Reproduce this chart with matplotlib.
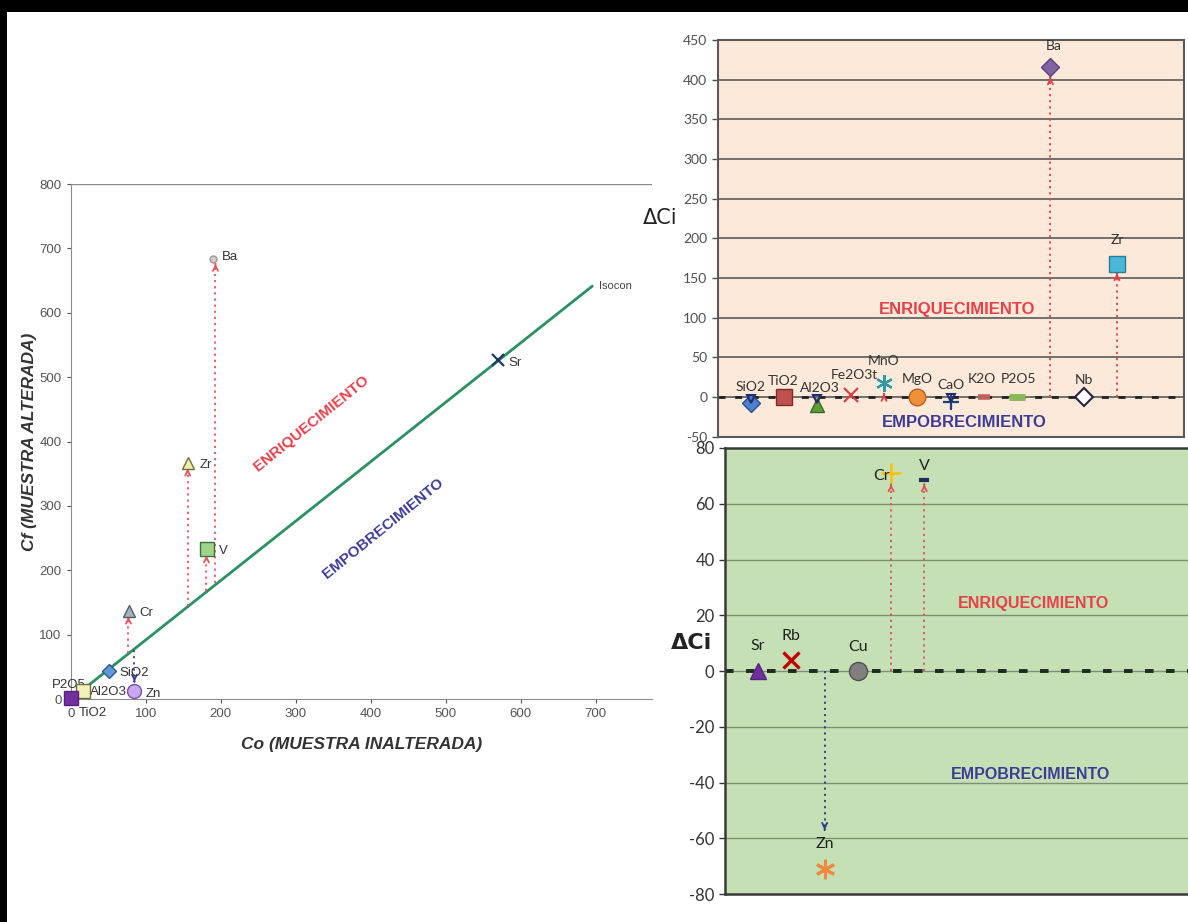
import matplotlib
matplotlib.use('Agg')
import matplotlib.pyplot as plt
from matplotlib import patches
import numpy as np

plt.rcParams['axes.unicode_minus'] = False

# ---- left chart: isocon diagram ----
iso_names = ['Ba', 'Zr', 'V', 'Cr', 'SiO2', 'Zn', 'Sr', 'Al2O3', 'TiO2']
iso_co = [190, 157, 182, 78, 51, 84, 570, 16, 0]
iso_cf = [684, 367, 233, 137, 44, 13, 527, 12, 1]
isocon_co = [18, 695]
isocon_cf = [16, 641]
# arrows: (Co, Cf start, Cf end)
iso_up = [(193, 180, 676), (156, 145, 358), (181, 168, 223), (77, 72, 128)]
iso_down = [(85, 76, 27), (16, 17, 9)]

# ---- top right: major elements + Ba, Nb, Zr ----
maj_names = ['SiO2', 'TiO2', 'Al2O3', 'Fe2O3t', 'MnO', 'MgO', 'CaO',
             'K2O', 'P2O5', 'Ba', 'Nb', 'Zr']
maj_dci = [-7, 0, -10, 2.5, 18, 0, -6, 0, 0, 416, 0, 168]
maj_up = [('Ba', 403), ('Zr', 156), ('MnO', 4)]
maj_down = [('SiO2', -2), ('Al2O3', -2), ('CaO', -1)]

# ---- bottom right: trace elements ----
tr_names = ['Sr', 'Rb', 'Zn', 'Cu', 'Cr', 'V']
tr_dci = [0, 4, -71, 0, 71, 68.5]
tr_up = [('Cr', 67), ('V', 67)]
tr_down = [('Zn', -57)]

RED = '#E8404A'
NAVY = '#3C3C96'
ASTER = (6, 2, 0)

fig = plt.figure(figsize=(11.88, 9.22), dpi=100)

# black frame (top and left)
fig.patches.append(patches.Rectangle((0, 1 - 12 / 922), 1, 12 / 922, transform=fig.transFigure,
                                     facecolor='black', edgecolor='none', zorder=10))
fig.patches.append(patches.Rectangle((0, 0), 7 / 1188, 1, transform=fig.transFigure,
                                     facecolor='black', edgecolor='none', zorder=10))


def dotted_arrow(ax, x, y0, y1, color, lw=1.3):
    ax.plot([x, x], [y0, y1], ls=(0, (1.2, 2.2)), color=color, lw=lw, zorder=2)
    d = (y1 - y0)
    ax.annotate('', xy=(x, y1), xytext=(x, y1 - 0.02 * d / abs(d) if d != 0 else y1),
                arrowprops=dict(arrowstyle='->', color=color, lw=lw,
                                shrinkA=0, shrinkB=0, mutation_scale=9), zorder=3)


# ===================== left chart =====================
ax1 = fig.add_axes([70.7 / 1188, 1 - 699 / 922, (652 - 70.7) / 1188, (699 - 184) / 922])
ax1.set_xlim(0, 775)
ax1.set_ylim(0, 800)
for s in ['top', 'right']:
    ax1.spines[s].set_visible(False)
for s in ['left', 'bottom']:
    ax1.spines[s].set_color('#8C8C8C')
ax1.axhline(800, color='#8C8C8C', lw=1)
ax1.set_xticks(np.arange(0, 701, 100))
ax1.set_yticks(np.arange(0, 801, 100))
ax1.tick_params(labelsize=9.5, colors='#555555', length=3, width=0.8, direction='out')
lfont = 'Liberation Sans'
for lab in ax1.get_xticklabels() + ax1.get_yticklabels():
    lab.set_family(lfont)

ax1.plot(isocon_co, isocon_cf, color='#2A9163', lw=2, zorder=2)
ax1.text(isocon_co[1] + 10, isocon_cf[1], 'Isocon', fontsize=8, color='#444444',
         family=lfont, va='center')

for x, y0, y1 in iso_up:
    dotted_arrow(ax1, x, y0, y1, '#F0505A')
for x, y0, y1 in iso_down:
    dotted_arrow(ax1, x, y0, y1, '#3A3A90')

iso_style = {
    'Ba': dict(marker='o', ms=5, mfc='#D8C8CC', mec='#999999'),
    'Zr': dict(marker='^', ms=9, mfc='#EEF0A8', mec='#6E6E40'),
    'V': dict(marker='s', ms=10, mfc='#9FD48C', mec='#3E6E3E'),
    'Cr': dict(marker='^', ms=9, mfc='#A4B4BC', mec='#4E5E66'),
    'SiO2': dict(marker='D', ms=7, mfc='#5C9BD5', mec='#2C5B8A'),
    'Zn': dict(marker='o', ms=10, mfc='#C8A8EE', mec='#7A50B0'),
    'Sr': dict(marker='x', ms=9, mec='#1F3864', mew=1.6),
    'Al2O3': dict(marker='s', ms=10, mfc='#F2F2B8', mec='#6E6E40'),
    'TiO2': dict(marker='s', ms=10, mfc='#7030A0', mec='#5A2080'),
}
for n, x, y in zip(iso_names, iso_co, iso_cf):
    ax1.plot([x], [y], ls='none', zorder=4, clip_on=False, **iso_style[n])

lbl_pos = {'Ba': (202, 686, 'left'), 'Zr': (172, 364, 'left'), 'V': (198, 230, 'left'),
           'Cr': (92, 134, 'left'), 'SiO2': (65, 40, 'left'), 'Zn': (100, 8, 'left'),
           'Sr': (583, 522, 'left'), 'Al2O3': (26, 11, 'left'), 'TiO2': (30, -22, 'center')}
for n, (x, y, ha) in lbl_pos.items():
    ax1.text(x, y, n, fontsize=9.5, color='#333333', family=lfont, ha=ha, va='center',
             clip_on=False)
ax1.text(-2, 22, 'P2O5', fontsize=9.5, color='#333333', family=lfont, ha='center',
         va='center', clip_on=False)

ax1.text(321, 428, 'ENRIQUECIMIENTO', color=RED, fontsize=11, fontweight='bold',
         family=lfont, rotation=39, ha='center', va='center', rotation_mode='anchor')
ax1.text(417, 265, 'EMPOBRECIMIENTO', color=NAVY, fontsize=11, fontweight='bold',
         family=lfont, rotation=39, ha='center', va='center', rotation_mode='anchor')
ax1.set_xlabel('Co (MUESTRA INALTERADA)', fontsize=12.5, fontweight='bold',
               fontstyle='italic', family=lfont, color='#333333', labelpad=12)
ax1.set_ylabel('Cf (MUESTRA ALTERADA)', fontsize=12.5, fontweight='bold',
               fontstyle='italic', family=lfont, color='#333333', labelpad=2)

# ===================== top right chart =====================
rfont = 'Lato'
ax2 = fig.add_axes([717.6 / 1188, 1 - 436.7 / 922, (1183.5 - 717.6) / 1188, (436.7 - 40) / 922])
ax2.set_facecolor('#FDE9D9')
ax2.set_xlim(0, 14)
ax2.set_ylim(-50, 450)
ax2.set_yticks(np.arange(-50, 451, 50))
ax2.set_xticks([])
ax2.grid(axis='y', color='#595959', lw=1.2)
ax2.set_axisbelow(True)
for s in ax2.spines.values():
    s.set_color('#595959')
    s.set_linewidth(1.5)
ax2.tick_params(axis='y', labelsize=10, colors='#505050', length=4, width=1,
                direction='out')
for lab in ax2.get_yticklabels():
    lab.set_family(rfont)
ax2.axhline(0, color='#222222', lw=2, ls=(0, (2.5, 3.5)), zorder=2)

maj_x = {n: i + 1 for i, n in enumerate(maj_names)}
for n, top in maj_up:
    dotted_arrow(ax2, maj_x[n], 0, top, '#E83A48')
for n, bot in maj_down:
    ax2.plot([maj_x[n]], [bot], marker='v', ms=6, mfc='none', mec='#1F2F6E', mew=1.5,
             zorder=5)

maj_style = {
    'SiO2': dict(marker='D', ms=9, mfc='#4F7FCF', mec='#2B4F8F'),
    'TiO2': dict(marker='s', ms=12, mfc='#C0504D', mec='#7F2A2A'),
    'Al2O3': dict(marker='^', ms=10, mfc='#5E9E3A', mec='#3A6A22'),
    'Fe2O3t': dict(marker='x', ms=10, mec='#D9404A', mew=1.6),
    'MnO': dict(marker=ASTER, ms=12, mec='#2E9AA6', mew=1.6),
    'MgO': dict(marker='o', ms=12, mfc='#F0903A', mec='#B86020'),
    'CaO': dict(marker='+', ms=11, mec='#1F3F7D', mew=1.6),
    'K2O': dict(marker='_', ms=8, mec='#C0605D', mew=4),
    'P2O5': dict(marker='_', ms=12, mec='#8DB85A', mew=5),
    'Ba': dict(marker='D', ms=9, mfc='#8064A2', mec='#5A4080'),
    'Nb': dict(marker='D', ms=9, mfc='white', mec='#222244', mew=1.5),
    'Zr': dict(marker='s', ms=12, mfc='#4BB8D8', mec='#2A7A9A'),
}
for n, v in zip(maj_names, maj_dci):
    ax2.plot([maj_x[n]], [v], ls='none', zorder=4, **maj_style[n])

maj_lbl = {'SiO2': (1, 13), 'TiO2': (1.97, 20), 'Al2O3': (3.08, 11), 'Fe2O3t': (4.1, 28),
           'MnO': (5, 46), 'MgO': (6, 23), 'CaO': (7, 15), 'K2O': (7.95, 23),
           'P2O5': (9.05, 23), 'Ba': (10.1, 442), 'Nb': (11, 21), 'Zr': (12, 198)}
for n, (x, y) in maj_lbl.items():
    ax2.text(x, y, n, fontsize=10, color='#333333', family=rfont, ha='center',
             va='center', zorder=6)
ax2.text(7.2, 110, 'ENRIQUECIMIENTO', color=RED, fontsize=12, fontweight='bold',
         family='Liberation Sans', ha='center', va='center')
ax2.text(7.4, -32, 'EMPOBRECIMIENTO', color=NAVY, fontsize=12, fontweight='bold',
         family='Liberation Sans', ha='center', va='center')
fig.text(660 / 1188, 1 - 218 / 922, 'ΔCi', fontsize=15, color='#222222',
         ha='center', va='center', family='DejaVu Sans')

# ===================== bottom right chart =====================
ax3 = fig.add_axes([725 / 1188, 1 - 894 / 922, 465 / 1188, (894 - 448) / 922])
ax3.set_facecolor('#C5E0B4')
ax3.set_xlim(0, 14)
ax3.set_ylim(-80, 80)
ax3.set_yticks(np.arange(-80, 81, 20))
ax3.set_xticks([])
ax3.grid(axis='y', color='#7F8F77', lw=1)
ax3.set_axisbelow(True)
for s in ax3.spines.values():
    s.set_color('#3A3A3A')
    s.set_linewidth(1.8)
ax3.tick_params(axis='y', labelsize=12, colors='#333333', length=4, width=1,
                direction='out')
for lab in ax3.get_yticklabels():
    lab.set_family(rfont)
ax3.axhline(0, color='#1E2A1E', lw=2.8, ls=(0, (2.2, 3.2)), zorder=2, clip_on=False)

tr_x = {n: i + 1 for i, n in enumerate(tr_names)}
for n, top in tr_up:
    dotted_arrow(ax3, tr_x[n], 0, top, '#E0505A')
for n, bot in tr_down:
    dotted_arrow(ax3, tr_x[n], 0, bot, '#2A3A8A')

tr_style = {
    'Sr': dict(marker='^', ms=12, mfc='#7030A0', mec='#5A2080'),
    'Rb': dict(marker='x', ms=12, mec='#C00000', mew=2.4),
    'Zn': dict(marker=ASTER, ms=14, mec='#F08A40', mew=2.2),
    'Cu': dict(marker='o', ms=13, mfc='#808080', mec='#505050'),
    'Cr': dict(marker='+', ms=14, mec='#FFC000', mew=1.8),
    'V': dict(marker='_', ms=7, mec='#1F2F5D', mew=3),
}
for n, v in zip(tr_names, tr_dci):
    ax3.plot([tr_x[n]], [v], ls='none', zorder=4, **tr_style[n])

tr_lbl = {'Sr': (1, 9, 'center'), 'Rb': (2, 12.5, 'center'), 'Zn': (3, -62, 'center'),
          'Cu': (4, 8.5, 'center'), 'Cr': (4.7, 70, 'center'), 'V': (6, 73.5, 'center')}
for n, (x, y, ha) in tr_lbl.items():
    ax3.text(x, y, n, fontsize=11.5, color='#222222', family=rfont, ha=ha, va='center',
             zorder=6)
ax3.text(9.3, 24.3, 'ENRIQUECIMIENTO', color=RED, fontsize=11.5, fontweight='bold',
         family='Liberation Sans', ha='center', va='center')
ax3.text(9.2, -37.3, 'EMPOBRECIMIENTO', color=NAVY, fontsize=11.5, fontweight='bold',
         family='Liberation Sans', ha='center', va='center')
fig.text(692 / 1188, 1 - 643 / 922, 'ΔCi', fontsize=16, fontweight='bold', color='#222222',
         ha='center', va='center', family='DejaVu Sans')

fig.savefig('out.png', dpi=100)
